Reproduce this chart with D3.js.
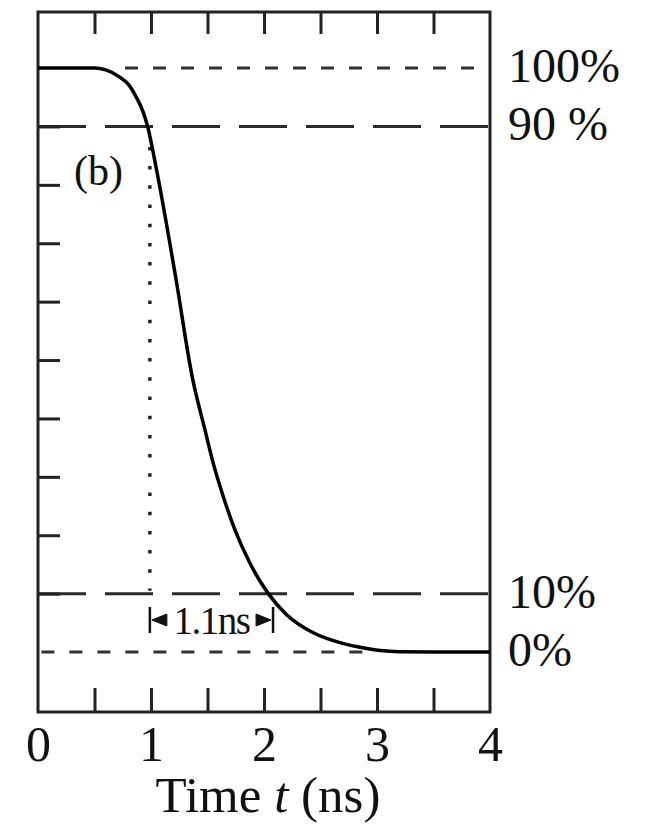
<!DOCTYPE html>
<html>
<head>
<meta charset="utf-8">
<script src="https://cdn.jsdelivr.net/npm/d3@7"></script>
<style>
  body { margin: 0; background: #fff; }
  svg { display: block; }
  text { font-family: "Liberation Serif", "Times New Roman", serif; fill: #111; }
</style>
</head>
<body>
<svg width="650" height="828"></svg>
<script>
// pulse trailing edge (t in ns, signal in %)
const times  = [0, 0.5, 0.6, 0.72, 0.8, 0.87, 0.93, 0.97, 1.05, 1.22, 1.366, 1.478, 1.551, 1.64, 1.743, 1.876, 2.038, 2.2, 2.436, 2.673, 2.909, 3.03, 3.2, 3.5, 4.0];
const values = [100, 100, 99.7, 98.5, 97.2, 95, 92.5, 90, 82.5, 64, 47, 38, 32.3, 26.6, 20.9, 15.2, 10, 6.4, 3.3, 1.6, 0.6, 0.25, 0.05, 0, 0];

const xTicks = [0, 0.5, 1, 1.5, 2, 2.5, 3, 3.5, 4];
const xTickLabels = ["0", "", "1", "", "2", "", "3", "", "4"];
const yTicks = [10, 20, 30, 40, 50, 60, 70, 80, 90];

// reference levels
const levelValues = [100, 90, 10, 0];
const levelLabels = ["100%", "90 %", "10%", "0%"];

// fall time markers (90% -> 10%)
const t90 = 0.99, t10 = 2.08;
const fallLabel = "1.1ns";

const svg = d3.select("svg");

const x = d3.scaleLinear().domain([0, 4]).range([38, 490]);
const y = d3.scaleLinear().domain([-10.27, 109.6]).range([712, 12]);

// reference lines
// long dashes at 90% and 10%
svg.selectAll("line.long")
  .data([90, 10])
  .join("line")
  .attr("class", "long")
  .attr("x1", x(0)).attr("x2", x(4))
  .attr("y1", d => y(d)).attr("y2", d => y(d))
  .attr("stroke", "#2a2a2a")
  .attr("stroke-width", 3)
  .attr("stroke-dasharray", "48 19");

// short dashes at 100% and 0%
svg.append("line")
  .attr("x1", x(0.77)).attr("x2", x(4))
  .attr("y1", y(100)).attr("y2", y(100))
  .attr("stroke", "#333")
  .attr("stroke-width", 3)
  .attr("stroke-dasharray", "13 15");

svg.append("line")
  .attr("x1", x(0.03)).attr("x2", x(2.9))
  .attr("y1", y(0)).attr("y2", y(0))
  .attr("stroke", "#333")
  .attr("stroke-width", 3)
  .attr("stroke-dasharray", "13 15");

// dotted vertical at the 90% crossing
svg.append("line")
  .attr("x1", x(t90)).attr("x2", x(t90))
  .attr("y1", y(86.5)).attr("y2", y(10.5))
  .attr("stroke", "#222")
  .attr("stroke-width", 3.5)
  .attr("stroke-dasharray", "3.5 15.7");

// axes: ticks only, pointing inward
const bottomAxis = svg.append("g")
  .attr("transform", "translate(0,712)")
  .call(d3.axisBottom(x).tickValues(xTicks)
    .tickFormat((d, i) => xTickLabels[i])
    .tickSizeInner(-24).tickSizeOuter(0).tickPadding(13));
bottomAxis.select(".domain").remove();
bottomAxis.selectAll("line").attr("stroke", "#222").attr("stroke-width", 3)
  .filter(d => d === 0 || d === 4).remove();
bottomAxis.selectAll("text")
  .attr("font-size", 50)
  .attr("font-family", "Liberation Serif, Times New Roman, serif")
  .attr("fill", "#111");

const topAxis = svg.append("g")
  .attr("transform", "translate(0,12)")
  .call(d3.axisTop(x).tickValues(xTicks.slice(1, -1))
    .tickFormat("").tickSizeInner(-22).tickSizeOuter(0));
topAxis.select(".domain").remove();
topAxis.selectAll("line").attr("stroke", "#222").attr("stroke-width", 3);

const leftAxis = svg.append("g")
  .attr("transform", "translate(38,0)")
  .call(d3.axisLeft(y).tickValues(yTicks)
    .tickFormat("").tickSizeInner(-22).tickSizeOuter(0));
leftAxis.select(".domain").remove();
leftAxis.selectAll("line").attr("stroke", "#222").attr("stroke-width", 3);

// frame
svg.append("rect")
  .attr("x", x(0)).attr("y", 12)
  .attr("width", x(4) - x(0)).attr("height", 700)
  .attr("fill", "none")
  .attr("stroke", "#222")
  .attr("stroke-width", 3);

// curve
const line = d3.line()
  .x((d, i) => x(times[i]))
  .y(d => y(d))
  .curve(d3.curveMonotoneX);

svg.append("path")
  .datum(values)
  .attr("d", line)
  .attr("fill", "none")
  .attr("stroke", "#000")
  .attr("stroke-width", 3.5);

// level labels on the right
svg.selectAll("text.level")
  .data(levelValues)
  .join("text")
  .attr("class", "level")
  .attr("x", 508)
  .attr("y", d => y(d) + 14)
  .attr("font-size", 48)
  .text((d, i) => levelLabels[i]);

// panel label
svg.append("text")
  .attr("x", 74).attr("y", 185)
  .attr("font-size", 42)
  .text("(b)");

// fall time bracket
const ay = 620;
const arrow = svg.append("g").attr("stroke", "#111").attr("fill", "#111");
[t90, t10].forEach(t => {
  arrow.append("line")
    .attr("x1", x(t)).attr("x2", x(t))
    .attr("y1", ay - 13).attr("y2", ay + 13)
    .attr("stroke-width", 2.5);
});
arrow.append("path")
  .attr("d", `M${x(t90) + 2},${ay}L${x(t90) + 17},${ay - 6}L${x(t90) + 17},${ay + 6}Z`);
arrow.append("path")
  .attr("d", `M${x(t10) - 2},${ay}L${x(t10) - 17},${ay - 6}L${x(t10) - 17},${ay + 6}Z`);

svg.append("text")
  .attr("x", (x(t90) + x(t10)) / 2).attr("y", 634)
  .attr("text-anchor", "middle")
  .attr("font-size", 39)
  .attr("letter-spacing", -1.5)
  .text(fallLabel);

// x axis title
const title = svg.append("text")
  .attr("x", 268).attr("y", 812)
  .attr("text-anchor", "middle")
  .attr("font-size", 51);
title.append("tspan").text("Time ");
title.append("tspan").attr("font-style", "italic").text("t");
title.append("tspan").text(" (ns)");
</script>
</body>
</html>
